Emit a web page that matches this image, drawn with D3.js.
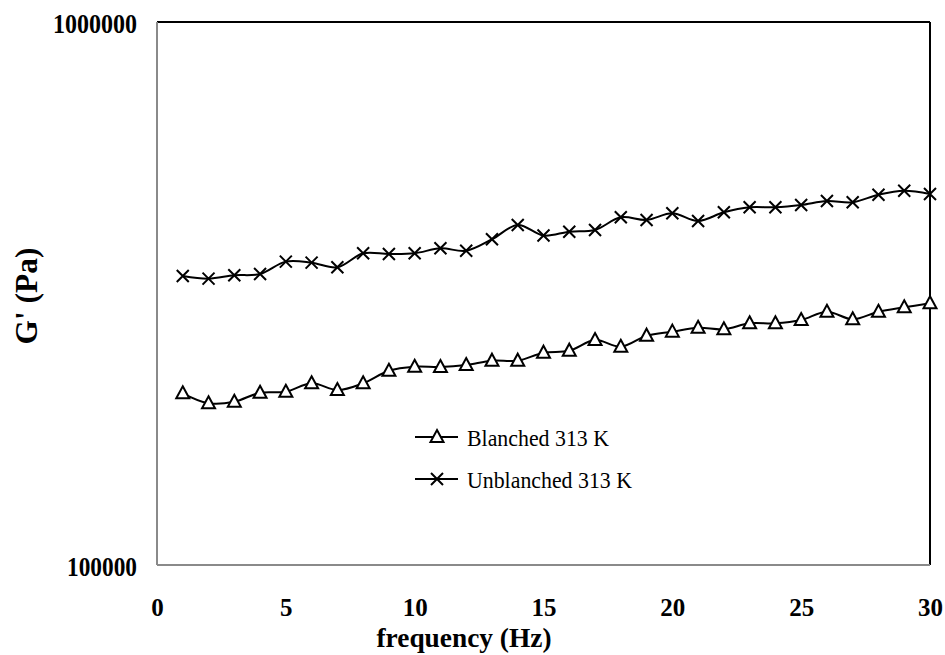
<!DOCTYPE html>
<html lang="en">
<head>
<meta charset="UTF-8">
<title>G' vs frequency</title>
<script src="https://d3js.org/d3.v7.min.js"></script>
<style>
  body { margin: 0; background: #fff; }
  svg { display: block; }
</style>
</head>
<body>
<div id="canvas"></div>
<script>
// data
const freq = d3.range(1, 31);
const blanched = [207100, 198500, 199800, 207600, 208500, 216100, 210000, 216100, 227900, 231800,
                  231500, 233500, 237800, 237800, 246000, 248100, 259600, 252300, 264400, 269000,
                  273500, 271700, 278700, 278700, 282600, 292700, 283500, 292700, 298200, 303400];
const unblanched = [340600, 336800, 341600, 343500, 362000, 360400, 353500, 375000, 373900, 375000,
                    383000, 379200, 398000, 422900, 404400, 411000, 414000, 436900, 432000, 444400,
                    430100, 446300, 455800, 455800, 460300, 468100, 465600, 480800, 489000, 482200];
const xTicks = [0, 5, 10, 15, 20, 25, 30];
const yTicks = [100000, 1000000];
const seriesNames = ["Blanched 313 K", "Unblanched 313 K"];

const W = 945, H = 655;
const mLeft = 157, mRight = 930, mTop = 22, mBottom = 565;
const serif = '"Liberation Serif", "Times New Roman", serif';

const svg = d3.select('#canvas').append('svg').attr('width', W).attr('height', H);

const x = d3.scaleLinear().domain([0, 30]).range([mLeft, mRight]);
const y = d3.scaleLog().domain([100000, 1000000]).range([mBottom, mTop]);

// frame: grey left/bottom, black top/right
svg.append('line').attr('x1', mLeft).attr('x2', mRight).attr('y1', mTop).attr('y2', mTop)
  .attr('stroke', '#000').attr('stroke-width', 2);
svg.append('line').attr('x1', mRight).attr('x2', mRight).attr('y1', mTop).attr('y2', mBottom)
  .attr('stroke', '#000').attr('stroke-width', 2);
svg.append('line').attr('x1', mLeft).attr('x2', mRight).attr('y1', mBottom).attr('y2', mBottom)
  .attr('stroke', '#8a8a8a').attr('stroke-width', 2);
svg.append('line').attr('x1', mLeft).attr('x2', mLeft).attr('y1', mTop).attr('y2', mBottom)
  .attr('stroke', '#8a8a8a').attr('stroke-width', 2);

// axes (labels only, no tick marks)
const xAxis = d3.axisBottom(x).tickValues(xTicks).tickSize(0).tickPadding(0).tickFormat(d3.format('d'));
const gx = svg.append('g').attr('transform', `translate(0,${mBottom})`).call(xAxis);
gx.select('.domain').remove();
gx.selectAll('text').attr('dy', null).attr('y', 51)
  .style('font-size', '25px').style('font-weight', 'bold').attr('fill', '#000')
  .style('font-family', serif);

const yAxis = d3.axisLeft(y).tickValues(yTicks).tickSize(0).tickPadding(20).tickFormat(d3.format('d'));
const gy = svg.append('g').attr('transform', `translate(${mLeft},0)`).call(yAxis);
gy.select('.domain').remove();
gy.selectAll('text').attr('dy', 10)
  .attr('textLength', d => d === 1000000 ? 84 : 70).attr('lengthAdjust', 'spacingAndGlyphs')
  .style('font-size', '27px').style('font-weight', 'bold').attr('fill', '#000')
  .style('font-family', serif);

// axis titles
svg.append('text').attr('x', 464).attr('y', 647).attr('text-anchor', 'middle')
  .attr('textLength', 175).attr('lengthAdjust', 'spacingAndGlyphs')
  .style('font-family', serif)
  .style('font-size', '28px').style('font-weight', 'bold').text('frequency (Hz)');
svg.append('text').attr('transform', 'translate(37,296) rotate(-90)').attr('text-anchor', 'middle')
  .attr('textLength', 97).attr('lengthAdjust', 'spacingAndGlyphs')
  .style('font-family', serif)
  .style('font-size', '31px').style('font-weight', 'bold').text("G' (Pa)");

const line = d3.line().x(d => x(d[0])).y(d => y(d[1])).curve(d3.curveCatmullRom);

const triPath = 'M0,-7L6.5,5L-6.5,5Z';
const crossPath = 'M-6,-6L6,6M-6,6L6,-6';

function drawSeries(vals, marker, filled) {
  const pts = freq.map((f, i) => [f, vals[i]]);
  svg.append('path').datum(pts).attr('d', line)
    .attr('fill', 'none').attr('stroke', '#000').attr('stroke-width', 2);
  svg.selectAll(null).data(pts).enter().append('path')
    .attr('transform', d => `translate(${x(d[0])},${y(d[1])})`)
    .attr('d', marker)
    .attr('fill', filled ? '#fff' : 'none')
    .attr('stroke', '#000').attr('stroke-width', 2);
}
drawSeries(blanched, triPath, true);
drawSeries(unblanched, crossPath, false);

// legend
const legend = [
  { name: seriesNames[0], marker: triPath, fill: '#fff', y: 437, len: 142 },
  { name: seriesNames[1], marker: crossPath, fill: 'none', y: 479, len: 165 }
];
legend.forEach(l => {
  svg.append('line').attr('x1', 415).attr('x2', 458).attr('y1', l.y).attr('y2', l.y)
    .attr('stroke', '#000').attr('stroke-width', 2);
  svg.append('path').attr('transform', `translate(437,${l.y})`).attr('d', l.marker)
    .attr('fill', l.fill).attr('stroke', '#000').attr('stroke-width', 2);
  svg.append('text').attr('x', 467).attr('y', l.y + 9)
    .attr('textLength', l.len).attr('lengthAdjust', 'spacingAndGlyphs')
    .style('font-family', serif)
    .style('font-size', '24px').text(l.name);
});
</script>
</body>
</html>
